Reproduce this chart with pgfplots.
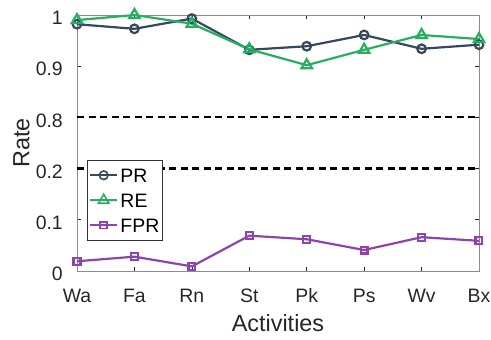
\documentclass[border=0pt]{standalone}
\usepackage{fontspec}
\setmainfont{Liberation Sans}
\usepackage{pgfplots}
\pgfplotsset{compat=1.18}

\definecolor{prc}{HTML}{34495E}
\definecolor{rec}{HTML}{27AE60}
\definecolor{fprc}{HTML}{8E44AD}

\begin{document}
\begin{tikzpicture}
\path[use as bounding box] (0,0) rectangle (491bp,340bp);
\begin{axis}[
  at={(77bp,69bp)}, anchor=south west,
  scale only axis, width=402bp, height=256bp,
  clip=false,
  xmin=0, xmax=7, ymin=0, ymax=0.5,
  xtick={0,...,7}, xticklabels={Wa,Fa,Rn,St,Pk,Ps,Wv,Bx},
  % broken axis: the upper band 0.8--1 is drawn shifted down by 0.5
  ytick={0,0.1,0.2,0.3,0.4,0.5}, yticklabels={0,0.1,0.2,0.8,0.9,1},
  tick align=inside, major tick length=4bp,
  tick style={draw=black!85, line width=0.7bp},
  axis line style={draw=black!85, line width=0.7bp},
  y axis line style={draw=black!45},
  ticklabel style={font=\fontsize{19.5}{23}\selectfont, text=black!85},
  xticklabel style={anchor=base, inner sep=0pt, yshift=-31bp},
  yticklabel style={anchor=east, inner sep=0pt, xshift=-14bp, yshift=-3bp},
  xlabel={Activities}, ylabel={Rate},
  label style={font=\fontsize{23.5}{28}\selectfont, text=black!85},
  xlabel style={at={(axis description cs:0.5,-0.2344)}, anchor=base, inner sep=0pt},
  ylabel style={at={(axis description cs:-0.1187,0.5)}, anchor=base, inner sep=0pt},
  legend style={at={(rel axis cs:0.025,0.434)}, anchor=north west,
    font=\fontsize{19.5}{23}\selectfont, draw=black!80, line width=0.7bp,
    fill=white, inner xsep=2bp, inner ysep=7bp, row sep=9bp, column sep=1.5bp,
    nodes={inner sep=1bp, text height=14bp, text depth=0bp}},
  legend cell align=left,
  legend image code/.code={\draw[mark repeat=2,mark phase=2,#1,line width=1.6bp]
    plot coordinates {(0bp,0bp) (13.5bp,0bp) (27bp,0bp)};},
]
% break markers at 0.2 and 0.8
\addplot[black, line width=2.2bp, dash pattern=on 7bp off 4.5bp, forget plot]
  coordinates {(0,0.2) (7,0.2)};
\addplot[black, line width=2.2bp, dash pattern=on 7bp off 4.5bp, forget plot,
  y filter/.expression={y-0.5}]
  coordinates {(0,0.8) (7,0.8)};

\addplot[prc, line width=2.2bp, mark=o, mark size=4.3bp,
  y filter/.expression={y-0.5}]
  coordinates {(0,0.982) (1,0.973) (2,0.993) (3,0.932) (4,0.939) (5,0.961) (6,0.934) (7,0.942)};
\addlegendentry{PR}
\addplot[rec, line width=2.2bp, mark=triangle, mark size=6bp,
  y filter/.expression={y-0.5}]
  coordinates {(0,0.990) (1,1.000) (2,0.983) (3,0.933) (4,0.902) (5,0.932) (6,0.961) (7,0.953)};
\addlegendentry{RE}
\addplot[fprc, line width=2.2bp, mark=square, mark size=3.4bp]
  coordinates {(0,0.019) (1,0.028) (2,0.009) (3,0.069) (4,0.062) (5,0.041) (6,0.066) (7,0.059)};
\addlegendentry{FPR}
\end{axis}
\end{tikzpicture}
\end{document}
